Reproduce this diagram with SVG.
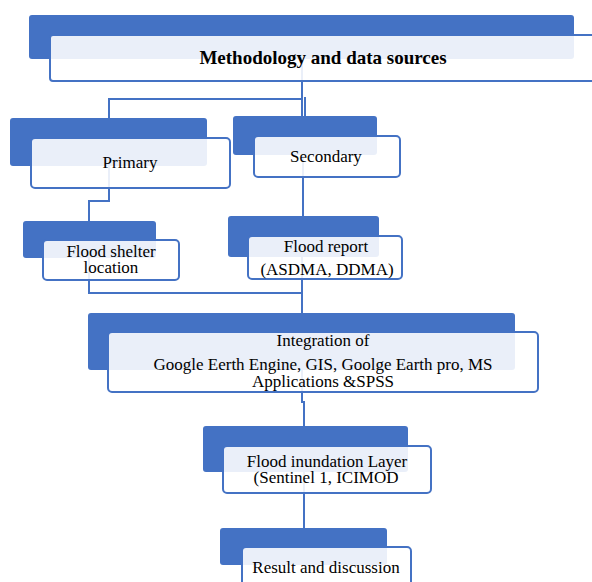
<svg xmlns="http://www.w3.org/2000/svg" width="592" height="582" viewBox="0 0 592 582">
<style>
.bg{fill:#4472C4;}
.fg{fill:#ffffff;fill-opacity:0.89;stroke:#4472C4;stroke-width:2;}
.t{font-family:"Liberation Serif","Times New Roman",serif;font-size:17px;fill:#000;text-anchor:middle;}
.b{font-weight:bold;font-size:19px;}
.c{fill:none;stroke:#4472C4;stroke-width:2;}
</style>
<rect width="592" height="582" fill="#ffffff"/>
<g id="connectors">
<path class="c" d="M302,59 V99 H109 V118"/>
<path class="c" d="M302,59 V116 M305,97 V116"/>
<path class="c" d="M109,166 V201 H89 V221"/>
<path class="c" d="M303,155 V216"/>
<path class="c" d="M89,258 V293 H302 V313"/>
<path class="c" d="M302,257 V293"/>
<path class="c" d="M302,370 V402 H304 V426"/>
<path class="c" d="M304,472 V528"/>
</g>
<g id="n-methodology">
<rect class="bg" x="29" y="15" width="545" height="44" rx="3"/>
<rect class="fg" x="50" y="35" width="548" height="46" rx="3"/>
<text class="t b" x="323" y="64">Methodology and data sources</text>
</g>
<g id="n-primary">
<rect class="bg" x="10" y="118" width="197" height="48" rx="3"/>
<rect class="fg" x="31" y="138" width="199" height="50" rx="4"/>
<text class="t" x="130" y="168">Primary</text>
</g>
<g id="n-secondary">
<rect class="bg" x="233" y="116" width="144" height="39" rx="3"/>
<rect class="fg" x="254" y="136" width="146" height="41" rx="4"/>
<text class="t" x="326" y="162">Secondary</text>
</g>
<g id="n-shelter">
<rect class="bg" x="23" y="221" width="133" height="37" rx="3"/>
<rect class="fg" x="43" y="240" width="136" height="40" rx="4"/>
<text class="t" x="111" y="257">Flood shelter</text>
<text class="t" x="111" y="273">location</text>
</g>
<g id="n-report">
<rect class="bg" x="228" y="216" width="151" height="41" rx="3"/>
<rect class="fg" x="248" y="236" width="154" height="43" rx="4"/>
<text class="t" x="326" y="252">Flood report</text>
<text class="t" x="327" y="275">(ASDMA, DDMA)</text>
</g>
<g id="n-integration">
<rect class="bg" x="88" y="313" width="427" height="57" rx="3"/>
<rect class="fg" x="108" y="332" width="430" height="60" rx="4"/>
<text class="t" x="323" y="346">Integration of</text>
<text class="t" x="323" y="370">Google Eerth Engine, GIS, Goolge Earth pro, MS</text>
<text class="t" x="323" y="387">Applications &amp;SPSS</text>
</g>
<g id="n-inundation">
<rect class="bg" x="203" y="426" width="205" height="46" rx="3"/>
<rect class="fg" x="223" y="446" width="208" height="47" rx="4"/>
<text class="t" x="327" y="467">Flood inundation Layer</text>
<text class="t" x="326" y="483">(Sentinel 1, ICIMOD</text>
</g>
<g id="n-result">
<rect class="bg" x="220" y="528" width="167" height="37" rx="3"/>
<rect class="fg" x="242" y="547" width="169" height="45" rx="4"/>
<text class="t" x="326" y="573">Result and discussion</text>
</g>
</svg>
